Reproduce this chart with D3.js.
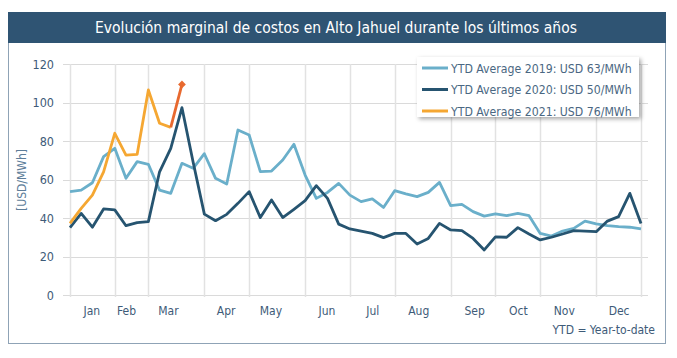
<!DOCTYPE html>
<html>
<head>
<meta charset="utf-8">
<script src="https://cdn.jsdelivr.net/npm/d3@7"></script>
<style>
  body { margin: 0; background: #fff; }
  text { font-family: "DejaVu Sans Condensed", "DejaVu Sans", sans-serif; }
</style>
</head>
<body>
<script>
const width = 677;
const height = 358;

// weekly values, week index 0..51
const y2019 = [53.7, 54.5, 58.3, 71.9, 76.2, 60.6, 69.3, 67.9, 54.5, 52.8, 68.4, 65.8,
  73.4, 60.6, 57.7, 85.7, 83.1, 64.1, 64.4, 70.1, 78.3, 62.3, 50.2, 53.3, 58.0, 51.9,
  48.5, 49.9, 45.5, 54.2, 52.5, 51.1, 53.3, 58.5, 46.4, 47.1, 43.3, 41.0, 42.2, 41.2,
  42.4, 41.2, 32.0, 30.6, 33.2, 34.6, 38.4, 36.9, 36.0, 35.5, 35.2, 34.3];
const y2020 = [35.0, 42.4, 35.2, 44.7, 44.2, 36.0, 37.6, 38.1, 64.0, 76.2, 97.3, 69.0,
  42.0, 38.6, 41.9, 47.6, 53.7, 40.2, 49.4, 40.2, 44.5, 49.0, 56.8, 50.2, 36.8, 34.3,
  33.2, 32.0, 29.8, 32.0, 32.0, 26.5, 29.4, 37.2, 33.8, 33.4, 29.4, 23.4, 30.2, 30.0,
  35.0, 31.7, 28.6, 30.0, 31.7, 33.4, 33.2, 32.9, 38.4, 40.7, 52.8, 37.2];
const y2021 = [37.2, 45.0, 51.9, 64.0, 84.0, 72.7, 73.1, 106.5, 89.2, 87.1];
const y2021Last = [87.1, 109.4]; // weeks 9..10, latest week

const legendLabels = [
  "YTD Average 2019: USD 63/MWh",
  "YTD Average 2020: USD 50/MWh",
  "YTD Average 2021: USD 76/MWh"
];
const months = ["Jan", "Feb", "Mar", "Apr", "May", "Jun", "Jul", "Aug", "Sep", "Oct", "Nov", "Dec"];
const monthPos = [1.9, 5.0, 8.75, 13.9, 17.9, 22.9, 27.0, 31.1, 36.1, 40.0, 44.1, 49.0];
const monthGrid = [0, 4, 7, 12, 16, 21, 25, 29, 34, 38, 42, 47, 51];
const yTicks = [0, 20, 40, 60, 80, 100, 120];

const svg = d3.select("body")
  .append("svg")
  .attr("width", width)
  .attr("height", height);

const defs = svg.append("defs");
const shadow = defs.append("filter").attr("id", "shadow")
  .attr("x", "-10%").attr("y", "-20%").attr("width", "130%").attr("height", "160%");
shadow.append("feDropShadow")
  .attr("dx", 2).attr("dy", 2).attr("stdDeviation", 2)
  .attr("flood-color", "#000").attr("flood-opacity", 0.35);

// frame + title bar
svg.append("rect")
  .attr("x", 8.5).attr("y", 12.5)
  .attr("width", 657).attr("height", 331)
  .attr("fill", "#fff")
  .attr("stroke", "#8fa3b6");
svg.append("rect")
  .attr("x", 8).attr("y", 12)
  .attr("width", 658).attr("height", 31)
  .attr("fill", "#2f5473");
svg.append("text")
  .attr("x", 336).attr("y", 33)
  .attr("text-anchor", "middle")
  .attr("fill", "#fff")
  .attr("font-size", 15.5)
  .text("Evolución marginal de costos en Alto Jahuel durante los últimos años");

const x = d3.scaleLinear().domain([0, 51]).range([70, 641]);
const y = d3.scaleLinear().domain([0, 120]).range([295, 64]);

// grid
svg.append("g")
  .selectAll("line")
  .data(yTicks)
  .join("line")
    .attr("x1", 63).attr("x2", 648)
    .attr("y1", d => Math.round(y(d)) + 0.5)
    .attr("y2", d => Math.round(y(d)) + 0.5)
    .attr("stroke", "#dadada");
svg.append("g")
  .selectAll("line")
  .data(monthGrid)
  .join("line")
    .attr("x1", d => Math.round(x(d)) + 0.5)
    .attr("x2", d => Math.round(x(d)) + 0.5)
    .attr("y1", y(120)).attr("y2", y(0) + 2)
    .attr("stroke", "#e2e2e2")
    .attr("stroke-width", 1.5);

// axes (labels only)
const yAxis = d3.axisLeft(y).tickValues(yTicks).tickSize(0).tickPadding(0);
svg.append("g")
  .attr("transform", "translate(54,0)")
  .call(yAxis)
  .call(g => g.select(".domain").remove())
  .selectAll("text")
    .attr("fill", "#3e5b78")
    .attr("font-size", 12.5)
    .attr("font-family", "DejaVu Sans Condensed");

const xAxis = d3.axisBottom(x).tickValues(monthPos)
  .tickFormat((d, i) => months[i]).tickSize(0).tickPadding(0);
svg.append("g")
  .attr("transform", "translate(0,306)")
  .call(xAxis)
  .call(g => g.select(".domain").remove())
  .selectAll("text")
    .attr("fill", "#3e5b78")
    .attr("font-size", 12)
    .attr("font-family", "DejaVu Sans Condensed");

svg.append("text")
  .attr("transform", "translate(26,180) rotate(-90)")
  .attr("text-anchor", "middle")
  .attr("fill", "#5d7d99")
  .attr("font-size", 12)
  .text("[USD/MWh]");

// lines
const line = d3.line().x((d, i) => x(i)).y(d => y(d));
const series = [
  { values: y2019, color: "#6aafca" },
  { values: y2020, color: "#265470" },
  { values: y2021, color: "#f5a732" }
];
svg.append("g")
  .selectAll("path")
  .data(series)
  .join("path")
    .attr("d", d => line(d.values))
    .attr("fill", "none")
    .attr("stroke", d => d.color)
    .attr("stroke-width", 2.8)
    .attr("stroke-linejoin", "round");

const lastLine = d3.line().x((d, i) => x(i + 9)).y(d => y(d));
svg.append("path")
  .attr("d", lastLine(y2021Last))
  .attr("fill", "none")
  .attr("stroke", "#e8692f")
  .attr("stroke-width", 2.8);
svg.append("path")
  .attr("d", d3.symbol(d3.symbolSquare, 30)())
  .attr("transform", `translate(${x(10)},${y(y2021Last[1])}) rotate(45)`)
  .attr("fill", "#e8692f");

// legend
const lg = svg.append("g").attr("transform", "translate(417,57)");
lg.append("rect")
  .attr("width", 222).attr("height", 60)
  .attr("fill", "#fff")
  .attr("filter", "url(#shadow)");
const items = lg.selectAll("g.item")
  .data(legendLabels)
  .join("g")
    .attr("class", "item")
    .attr("transform", (d, i) => `translate(0,${11 + i * 21.5})`);
items.append("line")
  .attr("x1", 5).attr("x2", 31)
  .attr("stroke", (d, i) => series[i].color)
  .attr("stroke-width", 3);
items.append("text")
  .attr("x", 34).attr("y", 4.5)
  .attr("fill", "#4a6782")
  .attr("font-size", 12.2)
  .text(d => d);

svg.append("text")
  .attr("x", 655).attr("y", 334)
  .attr("text-anchor", "end")
  .attr("fill", "#3e5b78")
  .attr("font-size", 12)
  .text("YTD = Year-to-date");
</script>
</body>
</html>
